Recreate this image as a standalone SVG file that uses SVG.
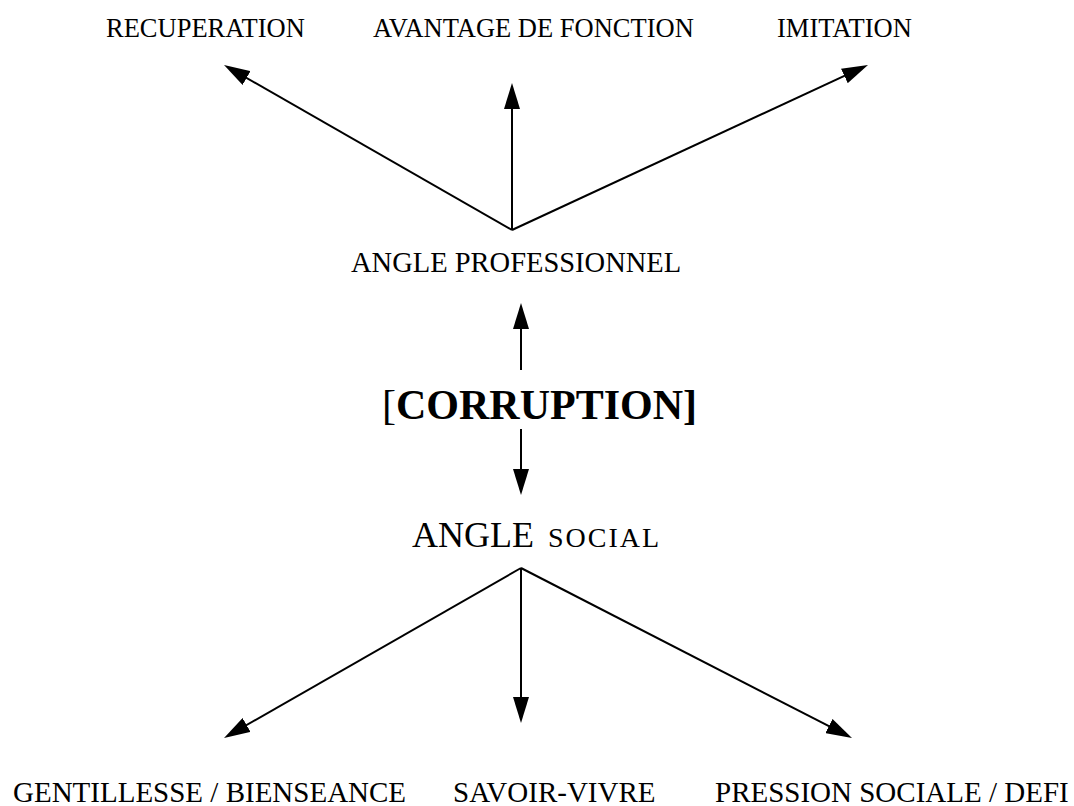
<svg xmlns="http://www.w3.org/2000/svg" width="1074" height="806" viewBox="0 0 1074 806">
  <style>
    text { font-family: "Liberation Serif", "Times New Roman", serif; fill: #000; }
    .top { font-size: 26.5px; }
    .bot { font-size: 29px; }
    .conn line { stroke: #000; stroke-width: 2; fill: none; marker-end: url(#ah); }
  </style>
  <defs>
    <marker id="ah" markerUnits="userSpaceOnUse" markerWidth="26" markerHeight="16" viewBox="0 0 26 16" refX="16" refY="8" orient="auto">
      <path d="M0,0 L26,8 L0,16 Z" fill="#000"/>
    </marker>
  </defs>
  <rect width="1074" height="806" fill="#fff"/>

  <g id="recuperation"><text class="top" x="106" y="37">RECUPERATION</text></g>
  <g id="avantage"><text class="top" x="373" y="37">AVANTAGE DE FONCTION</text></g>
  <g id="imitation"><text class="top" x="777" y="37">IMITATION</text></g>

  <g id="angle-professionnel"><text x="351" y="272" font-size="28.5">ANGLE PROFESSIONNEL</text></g>

  <g id="corruption"><text x="382" y="419" font-size="42">[<tspan font-weight="bold">CORRUPTION]</tspan></text></g>

  <g id="angle-social"><text x="412" y="547" font-size="36">ANGLE<tspan x="548" font-size="28" letter-spacing="2">SOCIAL</tspan></text></g>

  <g id="gentillesse"><text class="bot" x="13" y="802">GENTILLESSE / BIENSEANCE</text></g>
  <g id="savoir-vivre"><text class="bot" x="453" y="802">SAVOIR-VIVRE</text></g>
  <g id="pression"><text class="bot" x="715" y="802">PRESSION SOCIALE / DEFI</text></g>

  <g id="connectors" class="conn">
    <line x1="512" y1="230" x2="232.7" y2="70"/>
    <line x1="512" y1="230" x2="512" y2="93"/>
    <line x1="512" y1="230" x2="858.9" y2="69.2"/>
    <line x1="521" y1="370" x2="521" y2="313"/>
    <line x1="521" y1="429" x2="521" y2="485"/>
    <line x1="521" y1="568" x2="232.7" y2="733"/>
    <line x1="521" y1="568" x2="521" y2="713"/>
    <line x1="521" y1="568" x2="843.1" y2="733.4"/>
  </g>
</svg>
